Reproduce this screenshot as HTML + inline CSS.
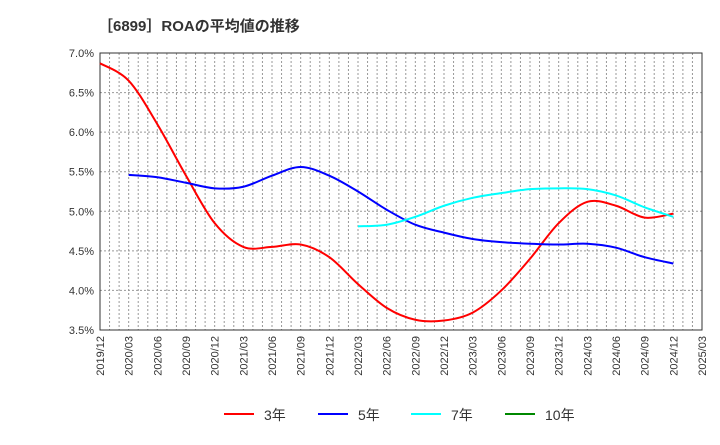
<!DOCTYPE html>
<html><head><meta charset="utf-8"><style>
body{margin:0;background:#fff;font-family:"Liberation Sans","Noto Sans CJK JP",sans-serif}
</style></head><body>
<svg id="c" width="720" height="440" xmlns="http://www.w3.org/2000/svg">
<text x="98" y="31" font-size="15" font-weight="bold" fill="#333" font-family="Liberation Sans,Noto Sans CJK JP,sans-serif">［6899］ROAの平均値の推移</text>
<g id="grid"></g><g id="axes"></g><g id="series"></g><g id="legend"></g>
</svg>
<script>
const xLabels=["2019/12","2020/03","2020/06","2020/09","2020/12","2021/03","2021/06","2021/09","2021/12","2022/03","2022/06","2022/09","2022/12","2023/03","2023/06","2023/09","2023/12","2024/03","2024/06","2024/09","2024/12","2025/03"];
const yTicks=[3.5,4.0,4.5,5.0,5.5,6.0,6.5,7.0];
const roa3=[6.87,6.65,6.1,5.45,4.85,4.55,4.55,4.58,4.42,4.08,3.78,3.63,3.62,3.72,4.0,4.4,4.85,5.12,5.07,4.92,4.97];
const roa5=[null,5.46,5.43,5.36,5.29,5.31,5.45,5.56,5.45,5.25,5.02,4.83,4.73,4.65,4.61,4.59,4.58,4.59,4.54,4.42,4.34];
const roa7=[null,null,null,null,null,null,null,null,null,4.81,4.83,4.93,5.07,5.17,5.23,5.28,5.29,5.28,5.2,5.05,4.93];
const roa10=[];
const L=100,R=702,T=53,B=330,NS="http://www.w3.org/2000/svg";
const xs=i=>L+i*(R-L)/(xLabels.length-1);
const ys=v=>B-(v-3.5)/(7.0-3.5)*(B-T);
function mk(tag,attrs,parent){const e=document.createElementNS(NS,tag);for(const k in attrs)e.setAttribute(k,attrs[k]);document.getElementById(parent).appendChild(e);return e;}
for(let m=0;m<=63;m++){const x=L+m*(R-L)/63;
const g=mk('line',{x1:x,x2:x,y1:T,y2:B,stroke:'#999','stroke-dasharray':'2,2','stroke-width':1},'grid');

}
yTicks.forEach(v=>{const g=mk('line',{x1:L,x2:R,y1:ys(v),y2:ys(v),stroke:'#999','stroke-dasharray':'2,2'},'grid');


const t=mk('text',{x:L-6,y:ys(v)+4,'text-anchor':'end','font-size':11,fill:'#333'},'axes');t.textContent=v.toFixed(1)+'%';

});
const fr=mk('rect',{x:L,y:T,width:R-L,height:B-T,fill:'none',stroke:'#333'},'axes');


xLabels.forEach((s,i)=>{const x=xs(i),t=mk('text',{x:x+4,y:B+6,'text-anchor':'end','font-size':11,fill:'#333',transform:`rotate(-90 ${x+4} ${B+6})`},'axes');t.textContent=s;

});
function path(arr){const p=[];arr.forEach((v,i)=>{if(v!=null)p.push([xs(i),ys(v)]);});if(p.length<2)return '';
let d=`M${p[0][0]},${p[0][1]}`;for(let i=0;i<p.length-1;i++){const p0=p[i-1]||p[i],p1=p[i],p2=p[i+1],p3=p[i+2]||p2;
d+=` C${p1[0]+(p2[0]-p0[0])/6},${p1[1]+(p2[1]-p0[1])/6} ${p2[0]-(p3[0]-p1[0])/6},${p2[1]-(p3[1]-p1[1])/6} ${p2[0]},${p2[1]}`;}return d;}
[[roa3,'#f00','line-3yr'],[roa5,'#00f','line-5yr'],[roa7,'#0ff','line-7yr'],[roa10,'#080','line-10yr']].forEach(([a,c,n])=>{const d=path(a);if(!d)return;
const e=mk('path',{d:d,fill:'none',stroke:c,'stroke-width':2},'series');

});
[['3年','#f00',224],['5年','#00f',318],['7年','#0ff',411],['10年','#080',505]].forEach(([s,c,x])=>{
const l=mk('line',{x1:x,x2:x+30,y1:414,y2:414,stroke:c,'stroke-width':2},'legend');


const t=mk('text',{x:x+40,y:420,'font-size':14,fill:'#333'},'legend');t.textContent=s;

});
</script>
</body></html>
